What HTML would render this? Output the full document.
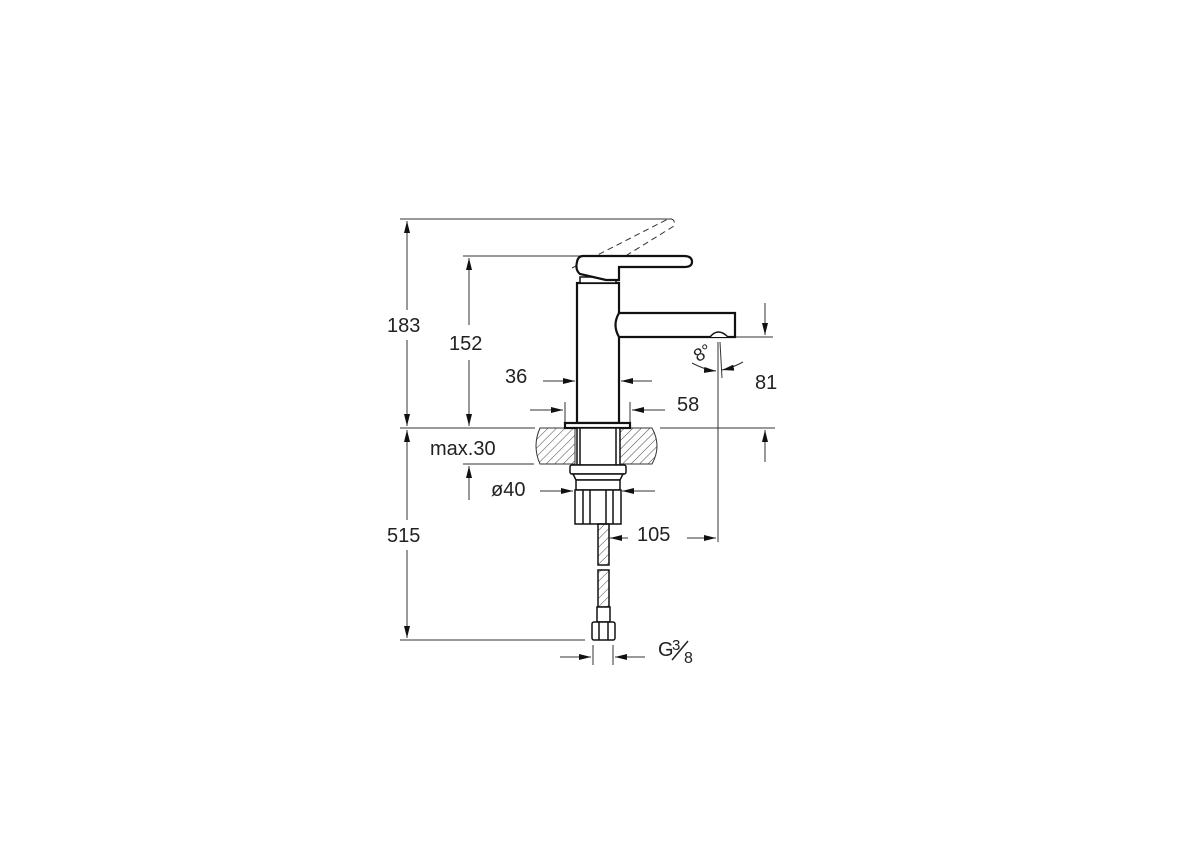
<!DOCTYPE html>
<html><head><style>html,body{margin:0;padding:0;background:#fff}svg{display:block}text{font-family:"Liberation Sans",sans-serif;font-size:20px;fill:#222}</style></head>
<body>
<svg width="1200" height="847" viewBox="0 0 1200 847" xmlns="http://www.w3.org/2000/svg">
<defs>
<pattern id="h" width="6" height="6" patternUnits="userSpaceOnUse" patternTransform="rotate(45)"><line x1="0" y1="0" x2="0" y2="6" stroke="#333" stroke-width="0.9"/></pattern>
<marker id="a" viewBox="0 0 12 6" refX="12" refY="3" markerWidth="12" markerHeight="6" markerUnits="userSpaceOnUse" orient="auto"><path d="M0,0 L12,3 L0,6 z" fill="#111"/></marker>
</defs>
<g stroke="#333" stroke-width="1" fill="none">
<line x1="400" y1="219" x2="672" y2="219"/>
<line x1="463" y1="256" x2="583" y2="256"/>
<line x1="400" y1="428" x2="535" y2="428"/>
<line x1="660" y1="428" x2="775" y2="428"/>
<line x1="463" y1="464" x2="534" y2="464"/>
<line x1="400" y1="640" x2="585" y2="640"/>
<line x1="735" y1="337" x2="773" y2="337"/>
<line x1="718" y1="342" x2="718" y2="542"/>
<line x1="565" y1="402" x2="565" y2="423"/>
<line x1="630" y1="402" x2="630" y2="423"/>
<line x1="593" y1="645" x2="593" y2="665"/>
<line x1="613" y1="645" x2="613" y2="665"/>
<line x1="598" y1="432" x2="598" y2="522"/>
<line x1="407" y1="310" x2="407" y2="221" marker-end="url(#a)"/>
<line x1="407" y1="340" x2="407" y2="426" marker-end="url(#a)"/>
<line x1="407" y1="520" x2="407" y2="430" marker-end="url(#a)"/>
<line x1="407" y1="550" x2="407" y2="638" marker-end="url(#a)"/>
<line x1="469" y1="325" x2="469" y2="258" marker-end="url(#a)"/>
<line x1="469" y1="360" x2="469" y2="426" marker-end="url(#a)"/>
<line x1="469" y1="500" x2="469" y2="466" marker-end="url(#a)"/>
<line x1="765" y1="303" x2="765" y2="335" marker-end="url(#a)"/>
<line x1="765" y1="462" x2="765" y2="430" marker-end="url(#a)"/>
<line x1="543" y1="381" x2="575" y2="381" marker-end="url(#a)"/>
<line x1="652" y1="381" x2="621" y2="381" marker-end="url(#a)"/>
<line x1="530" y1="410" x2="563" y2="410" marker-end="url(#a)"/>
<line x1="665" y1="410" x2="632" y2="410" marker-end="url(#a)"/>
<line x1="540" y1="491" x2="573" y2="491" marker-end="url(#a)"/>
<line x1="655" y1="491" x2="622" y2="491" marker-end="url(#a)"/>
<line x1="628" y1="538" x2="610" y2="538" marker-end="url(#a)"/>
<line x1="687" y1="538" x2="716" y2="538" marker-end="url(#a)"/>
<line x1="560" y1="657" x2="591" y2="657" marker-end="url(#a)"/>
<line x1="645" y1="657" x2="615" y2="657" marker-end="url(#a)"/>
<line x1="720" y1="342" x2="722" y2="378"/>
<path d="M692,363 Q705,370 716,371" marker-end="url(#a)"/>
<path d="M743,362 Q732,368 722,370" marker-end="url(#a)"/>
<path d="M572,268 L668,219 Q676,218 674,226 L585,281" stroke-dasharray="6,4"/>
<line x1="612" y1="255" x2="607" y2="279" stroke-dasharray="5,4"/>
<path d="M540,428 L575,428 L575,464 L540,464 Q532,446 540,428 z" fill="url(#h)"/>
<path d="M620,428 L652,428 Q662,446 652,464 L620,464 z" fill="url(#h)"/>
</g>
<g stroke="#111" stroke-width="2.2" fill="#fff">
<rect x="577" y="283" width="42" height="140"/>
<rect x="580" y="277" width="36" height="6" stroke-width="1.5"/>
<path d="M583,256 L684,256 Q692,256 692,262 Q692,267 684,267 L619,267 L619,280 L606,280 L580,274 Q575,270 577,262 Q578,256 583,256 z"/>
<path d="M619,313 L735,313 L735,337 L619,337 Q612,325 619,313 z"/>
<path d="M710,337 Q718,327 728,337" stroke-width="1.5"/>
<rect x="565" y="423" width="65" height="5"/>
<g stroke-width="1.5">
<rect x="577" y="428" width="43" height="37"/>
<line x1="580" y1="428" x2="580" y2="465"/>
<line x1="616" y1="428" x2="616" y2="465"/>
<rect x="570" y="465" width="56" height="9" rx="2"/>
<path d="M573,474 L623,474 L620,480 L576,480 z"/>
<rect x="576" y="480" width="44" height="10"/>
<rect x="575" y="490" width="46" height="34"/>
<line x1="583" y1="490" x2="583" y2="524"/>
<line x1="590" y1="490" x2="590" y2="524"/>
<line x1="606" y1="490" x2="606" y2="524"/>
<line x1="613" y1="490" x2="613" y2="524"/>
<rect x="598" y="524" width="11" height="41" fill="url(#h)"/>
<rect x="598" y="570" width="11" height="37" fill="url(#h)"/>
<rect x="597" y="607" width="13" height="15"/>
<rect x="592" y="622" width="23" height="18" rx="2"/>
<line x1="599" y1="622" x2="599" y2="640"/>
<line x1="608" y1="622" x2="608" y2="640"/>
</g>
</g>
<text x="387" y="332">183</text>
<text x="449" y="350">152</text>
<text x="505" y="383">36</text>
<text x="677" y="411">58</text>
<text x="755" y="389">81</text>
<text x="430" y="455">max.30</text>
<text x="491" y="496">ø40</text>
<text x="637" y="541">105</text>
<text x="387" y="542">515</text>
<text x="658" y="656">G</text>
<text x="672" y="650" style="font-size:15px">3</text>
<line x1="672" y1="660" x2="688" y2="641" stroke="#222" stroke-width="1.5"/>
<text x="684" y="663" style="font-size:16px">8</text>
<text x="693" y="360" style="font-size:18px" transform="rotate(-30 700 352)">8°</text>
</svg>
</body></html>
